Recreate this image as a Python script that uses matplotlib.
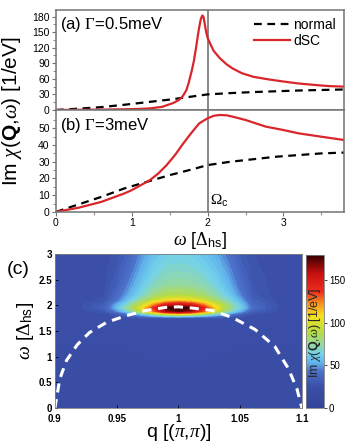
import numpy as np
import matplotlib
matplotlib.use("Agg")
import matplotlib.pyplot as plt
from matplotlib.colors import LinearSegmentedColormap, Normalize
from matplotlib.cm import ScalarMappable

plt.rcParams['font.family'] = ['Liberation Sans', 'DejaVu Sans']
plt.rcParams['mathtext.fontset'] = 'custom'
plt.rcParams['mathtext.rm'] = 'Liberation Serif'
plt.rcParams['mathtext.it'] = 'Liberation Serif:italic'
plt.rcParams['mathtext.bf'] = 'Liberation Sans:bold'
plt.rcParams['mathtext.sf'] = 'Liberation Sans'

# ---- panel (a): Gamma = 0.5 meV
w_a_norm = [0, 0.3, 0.6, 0.9, 1.2, 1.5, 1.8, 2.0, 2.3, 2.6, 2.9, 3.2, 3.5, 3.8]
chi_a_norm = [0, 2.5, 5.5, 10, 15, 20, 26, 30, 32.5, 34.5, 36, 37.5, 38.5, 39.5]
w_a_dsc = [0, 0.3, 0.6, 0.9, 1.1, 1.24, 1.4, 1.54, 1.62, 1.67, 1.72, 1.75, 1.79,
           1.82, 1.85, 1.87, 1.89, 1.91, 1.93, 1.945, 1.96, 1.98, 2.0, 2.04, 2.08,
           2.16, 2.25, 2.33, 2.45, 2.6, 2.8, 2.99, 3.2, 3.43, 3.6, 3.8]
chi_a_dsc = [0, 0.3, 0.7, 1.3, 2, 3, 6, 13, 19, 26, 38, 52, 75,
             95, 122, 142, 160, 175, 182, 180, 168, 151, 139, 126, 114,
             100, 88, 80, 71, 64, 59, 55, 51, 48, 46, 45]

# ---- panel (b): Gamma = 3 meV
w_b_norm = [0, 0.3, 0.6, 0.9, 1.2, 1.5, 1.8, 2.0, 2.3, 2.6, 2.9, 3.2, 3.5, 3.8]
chi_b_norm = [0, 4.5, 9, 14, 18, 22, 25.5, 28, 30, 31.5, 33, 34, 35, 35.5]
w_b_dsc = [0, 0.3, 0.6, 0.9, 1.0, 1.1, 1.24, 1.35, 1.46, 1.57, 1.68, 1.79, 1.89,
           2.0, 2.08, 2.16, 2.25, 2.33, 2.5, 2.77, 3.0, 3.2, 3.5, 3.8]
chi_b_dsc = [0, 2.5, 6, 11, 13, 15.5, 19, 23, 28, 34, 41, 47.5, 53,
             56, 57.5, 58, 57.8, 57, 55, 51, 49, 47, 45, 43]

# ---- panel (c): Im chi(q, omega) map
q_grid = [0.90, 0.92, 0.94, 0.95, 0.96, 0.97, 0.98, 0.99, 1.00,
          1.01, 1.02, 1.03, 1.04, 1.05, 1.06, 1.08, 1.10]
w_grid = [0.0, 0.5, 1.0, 1.5, 1.75, 1.82, 1.88, 1.95, 2.02, 2.1, 2.2, 2.4, 2.7, 3.0]
chi_map = [
    [19, 19, 19, 19, 19, 19, 19, 19, 19, 19, 19, 19, 19, 19, 19, 19, 19],
    [19, 19, 19, 19, 19, 19, 19, 19, 19, 19, 19, 19, 19, 19, 19, 19, 19],
    [20, 20, 20, 20, 20, 21, 22, 22, 22, 22, 22, 21, 20, 20, 20, 20, 20],
    [24, 24, 24, 24, 24, 25, 25, 25, 25, 25, 25, 25, 24, 24, 24, 24, 24],
    [24, 24, 25, 25, 26, 26, 27, 27, 27, 27, 27, 26, 26, 25, 25, 24, 24],
    [24, 25, 26, 30, 38, 55, 72, 88, 95, 88, 75, 60, 45, 33, 27, 25, 24],
    [24, 25, 30, 45, 65, 92, 125, 160, 172, 160, 130, 98, 72, 52, 34, 26, 24],
    [24, 26, 35, 55, 78, 102, 140, 176, 180, 176, 145, 108, 82, 62, 40, 27, 24],
    [24, 26, 33, 50, 70, 92, 118, 142, 150, 142, 122, 98, 78, 58, 38, 27, 24],
    [24, 25, 28, 42, 58, 76, 94, 104, 108, 104, 96, 82, 68, 52, 34, 26, 24],
    [24, 25, 27, 38, 52, 66, 79, 86, 88, 86, 81, 72, 61, 46, 31, 25, 24],
    [24, 25, 26, 33, 46, 59, 69, 74, 75, 74, 71, 64, 54, 41, 30, 25, 24],
    [24, 25, 26, 30, 40, 52, 62, 67, 68, 67, 64, 58, 48, 36, 28, 25, 24],
    [24, 25, 25, 28, 35, 47, 57, 62, 63, 62, 58, 52, 42, 32, 27, 25, 24],
]
arc_q = [0.900, 0.904, 0.9095, 0.918, 0.928, 0.942, 0.958, 0.974, 0.99, 1.0,
         1.01, 1.027, 1.043, 1.062, 1.078, 1.089, 1.096, 1.100]
arc_w = [0.0, 0.57, 0.93, 1.23, 1.47, 1.67, 1.80, 1.90, 1.96, 1.97,
         1.95, 1.90, 1.77, 1.53, 1.20, 0.77, 0.37, 0.0]

red = '#d9262b'
frame = '0.45'

fig = plt.figure(figsize=(3.54, 4.47), dpi=100)
ax_a = fig.add_axes([0.158, 0.754, 0.814, 0.224])
ax_b = fig.add_axes([0.158, 0.526, 0.814, 0.228])
ax_c = fig.add_axes([0.155, 0.087, 0.698, 0.345])
cax = fig.add_axes([0.864, 0.088, 0.050, 0.342])

for ax, wn, cn, wd, cd in [(ax_a, w_a_norm, chi_a_norm, w_a_dsc, chi_a_dsc),
                           (ax_b, w_b_norm, chi_b_norm, w_b_dsc, chi_b_dsc)]:
    ax.axvline(2.0, color='0.45', lw=1.2, zorder=1)
    ax.plot(wn, cn, color='k', lw=1.6, dashes=(3.5, 2.5), label='normal')
    ax.plot(wd, cd, color=red, lw=1.6, label='dSC')
    ax.set_xlim(0, 3.8)
    for s in ax.spines.values():
        s.set_color(frame)
        s.set_linewidth(1.1)
    ax.tick_params(labelsize=7.5, direction='out', length=3, width=0.8, color=frame, pad=1.5)
    ax.tick_params(which='minor', direction='out', length=2, width=0.6, color=frame)

ax_a.set_ylim(0, 193)
ax_a.set_yticks(np.arange(0, 181, 30))
ax_a.set_yticks(np.arange(15, 181, 30), minor=True)
ax_a.tick_params(axis='x', which='both', length=0, labelbottom=False)
ax_a.text(0.014, 0.85, r'(a) $\Gamma$=0.5meV', transform=ax_a.transAxes,
          fontsize=12, va='center', ha='left')
ax_a.legend(loc='upper right', frameon=False, fontsize=10, handlelength=2.6,
            labelspacing=0.15, handletextpad=0.2, borderaxespad=0.2)

ax_b.set_ylim(0, 61)
ax_b.set_yticks(np.arange(0, 51, 10))
ax_b.set_yticks(np.arange(5, 56, 10), minor=True)
ax_b.set_xticks([0, 1, 2, 3])
ax_b.set_xticks([0.5, 1.5, 2.5, 3.5], minor=True)
ax_b.text(0.014, 0.85, r'(b) $\Gamma$=3meV', transform=ax_b.transAxes,
          fontsize=12, va='center', ha='left')
ax_b.text(2.03, 2, r'$\Omega_{\mathsf{c}}$', fontsize=11, va='bottom', ha='left')
ax_b.set_xlabel(r'$\omega$ [$\Delta_{\mathsf{hs}}$]', fontsize=13, labelpad=1)

fig.text(0.035, 0.752, r'Im $\chi$($\mathbf{Q}$,$\omega$) [1/eV]', rotation=90,
         fontsize=15, ha='center', va='center')

# colour map of panel (c)
cmap = LinearSegmentedColormap.from_list('imchi', [
    (0.00, (0.20, 0.27, 0.60)),
    (0.14, (0.23, 0.31, 0.66)),
    (0.24, (0.30, 0.45, 0.80)),
    (0.29, (0.38, 0.70, 0.92)),
    (0.35, (0.45, 0.82, 0.92)),
    (0.42, (0.60, 0.85, 0.60)),
    (0.50, (0.72, 0.86, 0.25)),
    (0.60, (0.98, 0.88, 0.12)),
    (0.68, (0.96, 0.58, 0.12)),
    (0.76, (0.92, 0.18, 0.12)),
    (0.88, (0.78, 0.06, 0.06)),
    (0.96, (0.40, 0.02, 0.02)),
    (1.00, (0.20, 0.00, 0.00)),
])
norm = Normalize(vmin=0, vmax=180)

cf = ax_c.contourf(q_grid, w_grid, np.array(chi_map), levels=np.arange(0, 184, 3),
                   cmap=cmap, norm=norm)
ax_c.plot(arc_q, arc_w, color='white', lw=2.2, dashes=(3, 2.2))
ax_c.set_xlim(0.9, 1.1)
ax_c.set_ylim(0, 3)
ax_c.set_xticks([0.9, 0.95, 1.0, 1.05, 1.1])
ax_c.set_xticklabels(['0.9', '0.95', '1', '1.05', '1.1'])
ax_c.set_yticks(np.arange(0, 3.01, 0.5))
ax_c.set_yticklabels(['0', '0.5', '1', '1.5', '2', '2.5', '3'])
ax_c.tick_params(labelsize=7, direction='in', length=2.5, width=0.6, pad=2)
ax_c.tick_params(axis='x', pad=4)
for lab in ax_c.get_xticklabels() + ax_c.get_yticklabels():
    lab.set_fontweight('bold')
for s in ax_c.spines.values():
    s.set_color('0.5')
    s.set_linewidth(0.6)
ax_c.set_xlabel(r'q [($\pi$,$\pi$)]', fontsize=14, labelpad=-1)
ax_c.set_ylabel(r'$\omega$ [$\Delta_{\mathsf{hs}}$]', fontsize=14, labelpad=2)
fig.text(0.05, 0.396, '(c)', fontsize=14, ha='center', va='center')

cb = fig.colorbar(ScalarMappable(norm=norm, cmap=cmap), cax=cax, ticks=[0, 50, 100, 150])
cb.outline.set_edgecolor('0.5')
cb.outline.set_linewidth(0.6)
cax.tick_params(labelsize=7, length=2, width=0.5, pad=2)
cax.text(0.5, 0.49, r'Im $\chi$($\mathbf{Q}$,$\omega$) [1/eV]', rotation=90,
         transform=cax.transAxes, ha='center', va='center', fontsize=9, color='0.15')

fig.savefig('out.png', dpi=100)
